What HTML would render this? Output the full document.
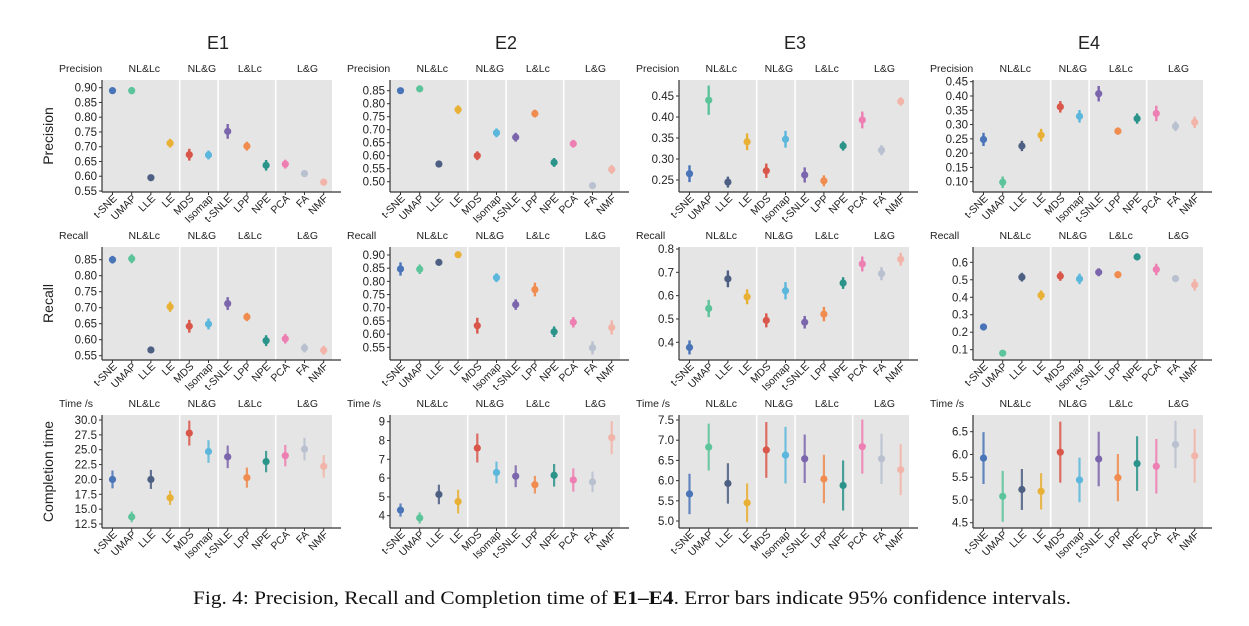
<!DOCTYPE html>
<html><head><meta charset="utf-8"><style>
html,body{margin:0;padding:0;background:#fff;}
svg{display:block;font-family:"Liberation Sans","DejaVu Sans",sans-serif;}
</style></head><body>
<svg id="fig" width="1249" height="626" viewBox="0 0 1249 626" xmlns="http://www.w3.org/2000/svg">
<g id="titles"></g>
<g id="panels"></g>
<text x="193" y="604" style="font-family:'Liberation Serif',serif" font-size="19" textLength="878" lengthAdjust="spacingAndGlyphs" fill="#111">Fig. 4: Precision, Recall and Completion time of <tspan font-weight="bold">E1–E4</tspan>. Error bars indicate 95% confidence intervals.</text>
</svg>
<script>
const categories = ["t-SNE","UMAP","LLE","LE","MDS","Isomap","t-SNLE","LPP","NPE","PCA","FA","NMF"];
const groupLabels = ["NL&Lc","NL&G","L&Lc","L&G"];
const experiments = ["E1","E2","E3","E4"];
const metricHeaders = ["Precision","Recall","Time /s"];
const rowTitles = ["Precision","Recall","Completion time"];
// mean values
const e1Precision = [.89,.89,.595,.712,.673,.672,.752,.702,.637,.641,.609,.58];
const e1PrecisionCI = [.01,.012,.008,.015,.02,.015,.025,.015,.018,.015,.012,.012];
const e2Precision = [.85,.857,.568,.777,.60,.688,.671,.762,.574,.646,.485,.547];
const e2PrecisionCI = [.008,.007,.006,.017,.017,.017,.017,.015,.017,.015,.005,.017];
const e3Precision = [.265,.44,.245,.341,.272,.347,.262,.248,.331,.393,.321,.437];
const e3PrecisionCI = [.02,.035,.013,.02,.017,.02,.018,.013,.011,.02,.012,.01];
const e4Precision = [.248,.098,.225,.263,.362,.329,.408,.277,.321,.339,.294,.308];
const e4PrecisionCI = [.023,.02,.018,.022,.02,.022,.027,.013,.018,.027,.017,.02];
const e1Recall = [.85,.853,.568,.703,.642,.649,.713,.671,.597,.603,.574,.567];
const e1RecallCI = [.012,.014,.006,.016,.02,.017,.02,.013,.017,.015,.014,.014];
const e2Recall = [.847,.846,.872,.901,.632,.814,.712,.769,.609,.645,.548,.625];
const e2RecallCI = [.025,.018,.012,.005,.03,.017,.02,.026,.02,.02,.025,.027];
const e3Recall = [.378,.545,.672,.595,.494,.621,.486,.521,.654,.736,.694,.756];
const e3RecallCI = [.03,.037,.036,.032,.03,.037,.027,.031,.025,.032,.028,.028];
const e4Recall = [.23,.08,.515,.411,.521,.505,.543,.529,.631,.559,.507,.471];
const e4RecallCI = [.02,.017,.025,.028,.027,.03,.023,.02,.02,.033,.02,.033];
const e1Time = [20.0,13.7,20.0,16.9,27.8,24.7,23.8,20.3,23.0,24.0,25.1,22.2];
const e1TimeCI = [1.5,.9,1.6,1.2,2.1,1.9,1.9,1.7,1.8,1.8,1.9,1.9];
const e2Time = [4.3,3.88,5.13,4.75,7.6,6.3,6.1,5.65,6.15,5.9,5.8,8.15];
const e2TimeCI = [.35,.3,.52,.63,.77,.58,.58,.47,.6,.62,.55,.88];
const e3Time = [5.67,6.83,5.93,5.45,6.76,6.63,6.54,6.04,5.88,6.84,6.54,6.27];
const e3TimeCI = [.5,.58,.5,.48,.69,.7,.6,.6,.62,.67,.62,.63];
const e4Time = [5.92,5.08,5.23,5.19,6.05,5.44,5.9,5.49,5.8,5.74,6.22,5.97];
const e4TimeCI = [.57,.56,.45,.4,.67,.49,.6,.52,.6,.6,.52,.59];
// tick labels
const ticksE1P = [.55,.60,.65,.70,.75,.80,.85,.90];
const ticksE2P = [.50,.55,.60,.65,.70,.75,.80,.85];
const ticksE3P = [.25,.30,.35,.40,.45];
const ticksE4P = [.10,.15,.20,.25,.30,.35,.40,.45];
const ticksE1R = [.55,.60,.65,.70,.75,.80,.85];
const ticksE2R = [.55,.60,.65,.70,.75,.80,.85,.90];
const ticksE3R = [.4,.5,.6,.7,.8];
const ticksE4R = [.1,.2,.3,.4,.5,.6];
const ticksE1T = [12.5,15.0,17.5,20.0,22.5,25.0,27.5,30.0];
const ticksE2T = [4,5,6,7,8,9];
const ticksE3T = [5.0,5.5,6.0,6.5,7.0,7.5];
const ticksE4T = [4.5,5.0,5.5,6.0,6.5];

const colors = ["#4a74b8","#5cc49a","#4d5f82","#e8b035","#d9574a","#5bb7db","#7b65ad","#f08c4f","#2a948a","#ee7fb3","#b9c0cf","#f2b4a8"];

const colLeft = [102,390,679,973];
const rowTop = [80,247,415], rowBot = [192,360,528];
const panels = [
 [e1Precision,e1PrecisionCI,ticksE1P,2,[.90,87.7,.55,191]],
 [e2Precision,e2PrecisionCI,ticksE2P,2,[.85,90.7,.50,181.7]],
 [e3Precision,e3PrecisionCI,ticksE3P,2,[.45,96,.25,180]],
 [e4Precision,e4PrecisionCI,ticksE4P,2,[.45,81.7,.10,181.7]],
 [e1Recall,e1RecallCI,ticksE1R,2,[.85,259.7,.55,355.7]],
 [e2Recall,e2RecallCI,ticksE2R,2,[.90,255,.55,347.3]],
 [e3Recall,e3RecallCI,ticksE3R,1,[.8,249,.4,342.3]],
 [e4Recall,e4RecallCI,ticksE4R,1,[.6,262.3,.1,349.7]],
 [e1Time,e1TimeCI,ticksE1T,1,[30,420,12.5,524]],
 [e2Time,e2TimeCI,ticksE2T,0,[9,421.7,4,515.7]],
 [e3Time,e3TimeCI,ticksE3T,1,[7.5,420,5.0,521]],
 [e4Time,e4TimeCI,ticksE4T,1,[6.5,431.7,4.5,522.7]]
];
const NS="http://www.w3.org/2000/svg";
function mk(tag,attrs,parent,text){const e=document.createElementNS(NS,tag);for(const k in attrs)e.setAttribute(k,attrs[k]);if(text!==undefined)e.textContent=text;parent.appendChild(e);return e;}
const titlesG=document.getElementById('titles'), panelsG=document.getElementById('panels');
experiments.forEach((ex,c)=>{
  const t=mk('text',{x:colLeft[c]+116,y:49,'text-anchor':'middle','font-size':18,fill:'#222'},titlesG,ex);
  
  
});
rowTitles.forEach((rt,r)=>{
  const cy=(rowTop[r]+rowBot[r])/2;
  const t=mk('text',{x:0,y:0,transform:`translate(53,${cy}) rotate(-90)`,'text-anchor':'middle','font-size':14,fill:'#222'},titlesG,rt);
  
  
});
const W=230, step=19.2, first=10.5;
panels.forEach((p,i)=>{
  const r=Math.floor(i/4), c=i%4;
  const [vals,ci,ticks,dec,cal]=p;
  const L=colLeft[c], T=rowTop[r], B=rowBot[r];
  const yS=v=>cal[1]+(v-cal[0])*(cal[3]-cal[1])/(cal[2]-cal[0]);
  const xS=k=>L+first+k*step;
  const g=mk('g',{},panelsG);
  
  
  const bg=mk('rect',{x:L,y:T,width:W,height:B-T,fill:'#e5e5e5'},g);
  
  
  [3.5,5.5,8.5].forEach(d=>{
    const dl=mk('line',{x1:xS(d),x2:xS(d),y1:T,y2:B,stroke:'#fff','stroke-width':1.6},g);
    
    
  });
  const h=mk('text',{x:L-43,y:T-8,'font-size':10.5,fill:'#222'},g,metricHeaders[r]);
  
  
  [[0,3],[4,5],[6,8],[9,11]].forEach((gr,gi)=>{
    const gt=mk('text',{x:(xS(gr[0])+xS(gr[1]))/2+3,y:T-8,'text-anchor':'middle','font-size':10.5,fill:'#222'},g,groupLabels[gi]);
    
    
  });
  const ya=mk('line',{x1:L,x2:L,y1:T,y2:B,stroke:'#333','stroke-width':1.2},g);
  
  
  const xa=mk('line',{x1:L,x2:L+239,y1:B,y2:B,stroke:'#333','stroke-width':1.2},g);
  
  
  ticks.forEach(tv=>{
    const y=yS(tv);
    mk('line',{x1:L-3,x2:L,y1:y,y2:y,stroke:'#333','stroke-width':1},g);
    const tl=mk('text',{x:L-5,y:y+4,'text-anchor':'end','font-size':11.5,fill:'#222'},g,tv.toFixed(dec));
    
    
  });
  categories.forEach((cat,k)=>{
    const x=xS(k);
    mk('line',{x1:x,x2:x,y1:B,y2:B+3,stroke:'#333','stroke-width':1},g);
    const xl=mk('text',{x:0,y:0,transform:`translate(${x+5},${B+7}) rotate(-45)`,'text-anchor':'end','font-size':10.5,fill:'#222'},g,cat);
    
    
    const col=colors[k];
    const eb=mk('line',{x1:x,x2:x,y1:yS(vals[k]-ci[k]),y2:yS(vals[k]+ci[k]),stroke:col,'stroke-width':r===2?2.2:2.4,'stroke-opacity':r===2?0.85:1},g);
    
    
    const pt=mk('circle',{cx:x,cy:yS(vals[k]),r:3.6,fill:col},g);
    
    
  });
});
</script>
</body></html>
